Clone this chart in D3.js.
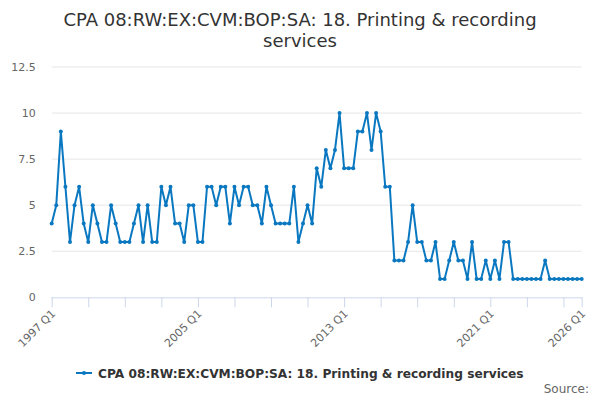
<!DOCTYPE html>
<html>
<head>
<meta charset="utf-8">
<script src="https://cdn.jsdelivr.net/npm/d3@7"></script>
<style>
  body { margin: 0; background: #fff; }
  svg { display: block; font-family: "DejaVu Sans", sans-serif; }
</style>
</head>
<body>
<div id="chart-container"></div>
<script>
// data, one value per quarter from 1997 Q1
const startYear = 1997;
const values = [
    4, 5, 9, 6, 3, 5, 6, 4, 3, 5, 4, 3, 3, 5, 4, 3,
    3, 3, 4, 5, 3, 5, 3, 3, 6, 5, 6, 4, 4, 3, 5, 5,
    3, 3, 6, 6, 5, 6, 6, 4, 6, 5, 6, 6, 5, 5, 4, 6,
    5, 4, 4, 4, 4, 6, 3, 4, 5, 4, 7, 6, 8, 7, 8, 10,
    7, 7, 7, 9, 9, 10, 8, 10, 9, 6, 6, 2, 2, 2, 3, 5,
    3, 3, 2, 2, 3, 1, 1, 2, 3, 2, 2, 1, 3, 1, 1, 2,
    1, 2, 1, 3, 3, 1, 1, 1, 1, 1, 1, 1, 2, 1, 1, 1,
    1, 1, 1, 1, 1
];
const quarters = values.map((v, i) => (startYear + Math.floor(i / 4)) + " Q" + (i % 4 + 1));
const tickLabels = ["1997 Q1", "2005 Q1", "2013 Q1", "2021 Q1", "2026 Q1"];
const yTicks = [0, 2.5, 5, 7.5, 10, 12.5];
const seriesName = "CPA 08:RW:EX:CVM:BOP:SA: 18. Printing & recording services";
const titleLines = ["CPA 08:RW:EX:CVM:BOP:SA: 18. Printing & recording", "services"];

const width = 600, height = 400;
const margin = { top: 67, right: 18.3, bottom: 102.7, left: 51.7 };
const lineColor = "#0a78c0";

const svg = d3.select("#chart-container")
    .append("svg")
    .attr("width", width)
    .attr("height", height);

// Title
svg.append("text")
    .attr("text-anchor", "middle")
    .style("font-size", "18px")
    .style("fill", "#333333")
    .selectAll("tspan")
    .data(titleLines)
    .enter()
    .append("tspan")
    .attr("x", width / 2)
    .attr("y", (d, i) => 26 + i * 21)
    .text(d => d);

// Scales
const xScale = d3.scalePoint()
    .domain(quarters)
    .range([margin.left, width - margin.right]);

const yScale = d3.scaleLinear()
    .domain([0, 12.5])
    .range([height - margin.bottom, margin.top]);

// Grid lines
svg.append("g")
    .selectAll("line")
    .data(yTicks.filter(d => d > 0))
    .enter()
    .append("line")
    .attr("x1", margin.left)
    .attr("x2", width - margin.right)
    .attr("y1", d => yScale(d))
    .attr("y2", d => yScale(d))
    .attr("stroke", "#e6e6e6")
    .attr("stroke-width", 1);

// Y axis (labels only)
const yAxis = d3.axisLeft(yScale)
    .tickValues(yTicks)
    .tickSize(0)
    .tickPadding(16)
    .tickFormat(d => d3.format("")(d));

svg.append("g")
    .attr("transform", `translate(${margin.left},0)`)
    .call(yAxis)
    .call(g => g.select(".domain").remove())
    .selectAll("text")
    .style("font-size", "11px")
    .style("fill", "#666666")
    .style("font-family", "DejaVu Sans, sans-serif");

// X axis: ticks every 2 years plus the final quarter
const tickVals = quarters.filter((q, i) => i % 8 === 0 && i < quarters.length - 4);
tickVals.push(quarters[quarters.length - 1]);

const xAxis = d3.axisBottom(xScale)
    .tickValues(tickVals)
    .tickSize(10)
    .tickSizeOuter(0)
    .tickFormat(d => tickLabels.includes(d) ? d : "");

const xg = svg.append("g")
    .attr("transform", `translate(0,${height - margin.bottom})`)
    .call(xAxis);

xg.select(".domain").attr("stroke", "#ccd6eb").attr("d", `M${margin.left - 0.5},0.5H${width - margin.right + 0.5}`);
xg.selectAll(".tick line").attr("stroke", "#ccd6eb");
xg.selectAll("text")
    .style("font-size", "11px")
    .style("fill", "#666666")
    .style("font-family", "DejaVu Sans, sans-serif")
    .attr("text-anchor", "end")
    .attr("x", 0)
    .attr("y", 0)
    .attr("dy", 0)
    .attr("transform", "translate(4,17) rotate(-45)");

// Line
const line = d3.line()
    .x((d, i) => xScale(quarters[i]))
    .y(d => yScale(d));

svg.append("path")
    .datum(values)
    .attr("fill", "none")
    .attr("stroke", lineColor)
    .attr("stroke-width", 2)
    .attr("stroke-linejoin", "round")
    .attr("d", line);

svg.append("g")
    .selectAll("circle")
    .data(values)
    .enter()
    .append("circle")
    .attr("cx", (d, i) => xScale(quarters[i]))
    .attr("cy", d => yScale(d))
    .attr("r", 2)
    .attr("fill", lineColor);

// Legend
const legend = svg.append("g").attr("transform", "translate(0,373)");
legend.append("line")
    .attr("x1", 76).attr("x2", 92)
    .attr("y1", 0).attr("y2", 0)
    .attr("stroke", lineColor)
    .attr("stroke-width", 2);
legend.append("circle")
    .attr("cx", 84).attr("cy", 0).attr("r", 2)
    .attr("fill", lineColor);
legend.append("text")
    .attr("x", 98)
    .attr("y", 4.5)
    .style("font-size", "12.2px")
    .style("font-weight", "bold")
    .style("fill", "#333333")
    .text(seriesName);

// Source credit
svg.append("text")
    .attr("x", 589)
    .attr("y", 393)
    .attr("text-anchor", "end")
    .style("font-size", "12px")
    .style("fill", "#666666")
    .text("Source:");
</script>
</body>
</html>
